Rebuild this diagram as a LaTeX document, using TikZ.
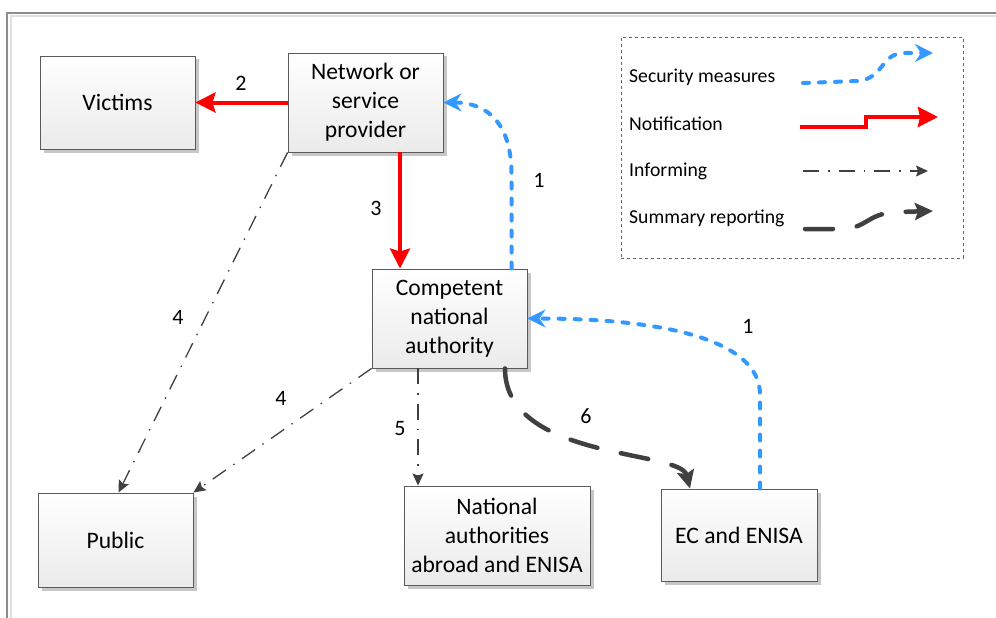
\documentclass[tikz,border=0pt]{standalone}
\usepackage{fontspec}
\setmainfont{Carlito}
\usetikzlibrary{arrows.meta,shadows,calc}
\definecolor{secblue}{HTML}{3399FF}
\definecolor{notred}{HTML}{FF0000}
\definecolor{infgray}{HTML}{404040}
\definecolor{boxedge}{HTML}{5A5A5A}
\tikzset{
  box/.style={draw=boxedge, line width=0.9pt, top color=white, bottom color=black!8,
    drop shadow={shadow xshift=3.5pt, shadow yshift=-3.5pt, fill=black!22, opacity=1},
    align=center, font=\fontsize{23.6}{29}\selectfont, inner sep=0pt},
  num/.style={font=\fontsize{22}{26}\selectfont, inner sep=0pt},
  legtext/.style={font=\fontsize{19.7}{23}\selectfont, inner sep=0pt, anchor=west},
  notif/.style={draw=notred, line width=4pt, -{Stealth[length=20pt, width=20pt, inset=3pt]}},
  secur/.style={draw=secblue, line width=4pt, line cap=round, dash pattern=on 6pt off 10pt,
    -{Stealth[length=18pt, width=18pt, inset=6pt]}},
  inform/.style={draw=infgray, line width=1.3pt, dash pattern=on 16pt off 9pt on 1.5pt off 9pt,
    -{Stealth[length=12pt, width=11pt, inset=2pt]}},
  summ/.style={draw=infgray, line width=4.5pt, line cap=round, dash pattern=on 28pt off 24pt,
    -{Stealth[length=18pt, width=17pt, inset=3pt]}},
  legbox/.style={draw=black!60, line width=0.8pt, dashed, inner sep=0pt}
}
\begin{document}
\begin{tikzpicture}[x=1pt, y=-1pt]
\useasboundingbox (0,0) rectangle (996,618);
% outer frame
\draw[black!45, line width=1.2pt] (7,630) -- (7,13) -- (1005,13);
\draw[black!12, line width=2pt] (10.5,630) -- (10.5,16.5) -- (1005,16.5);

% boxes
\node[box, minimum width=155pt, minimum height=93pt] (vic) at (117.5,102.5) {Victims};
\node[box, minimum width=155pt, minimum height=99pt] (net) at (365.5,102.5) {Network or\\service\\provider};
\node[box, minimum width=155pt, minimum height=99pt] (cna) at (449.5,318.5) {Competent\\national\\authority};
\node[box, minimum width=155pt, minimum height=94pt] (pub) at (115.5,540) {Public};
\node[box, minimum width=186pt, minimum height=99pt] (nat) at (497,535.5) {National\\authorities\\abroad and ENISA};
\node[box, minimum width=156pt, minimum height=92pt] (ec) at (739,535) {EC and ENISA};

% connectors
\draw[notif] (net.west) -- (vic.east);
\draw[notif] ([xshift=34.5pt]net.south) -- ([xshift=34.5pt]net.south |- cna.north);
\draw[secur] ([xshift=62pt]cna.north) -- ++(0,-94) .. controls +(0,-50) and +(45,0) .. (net.east);
\draw[secur] ([xshift=21pt]ec.north) -- ++(0,-94) .. controls +(0,-58) and +(125,0) .. (cna.east);
\draw[inform] (net.south west) -- ([xshift=3pt]pub.north);
\draw[inform] (cna.south west) -- (pub.north east);
\draw[inform] ([xshift=-31.5pt]cna.south) -- ([xshift=-31.5pt]cna.south |- nat.north);
\draw[summ] ([xshift=55.5pt]cna.south) .. controls +(0,92) and +(-10,-39) .. ([xshift=-49pt]ec.north);

% labels
\node[num] (l2) at (241,83) {2};
\node[num] (l3) at (376,208) {3};
\node[num] (l1a) at (539,180) {1};
\node[num] (l1b) at (748,326) {1};
\node[num] (l4a) at (178,317) {4};
\node[num] (l4b) at (281,398) {4};
\node[num] (l5) at (400,429) {5};
\node[num] (l6) at (586,416) {6};

% legend
\node[legbox, minimum width=342pt, minimum height=221pt] (leg) at (792,147.5) {};
\node[legtext] (t1) at (629,77) {Security measures};
\node[legtext] (t2) at (629,124) {Notification};
\node[legtext] (t3) at (629,171) {Informing};
\node[legtext] (t4) at (629,218) {Summary reporting};
\coordinate (s1a) at (803,83);
\coordinate (s1b) at (933,53);
\coordinate (s2a) at (800,127);
\coordinate (s2b) at (938,117);
\coordinate (s3a) at (803,171);
\coordinate (s3b) at (928,171);
\coordinate (s4a) at (805,229);
\coordinate (s4b) at (933,211);
\draw[secur] (s1a) -- (858,81) .. controls (885,78) and (880,53) .. (905,53) -- (s1b);
\draw[notif, -{Stealth[length=20pt, width=20pt, inset=2pt]}] (s2a) -- (866,127) -- (866,117) -- (s2b);
\draw[inform] (s3a) -- (s3b);
\draw[summ] (s4a) -- (840,229) .. controls (868,229) and (866,213) .. (898,212) -- (s4b);
\end{tikzpicture}
\end{document}
